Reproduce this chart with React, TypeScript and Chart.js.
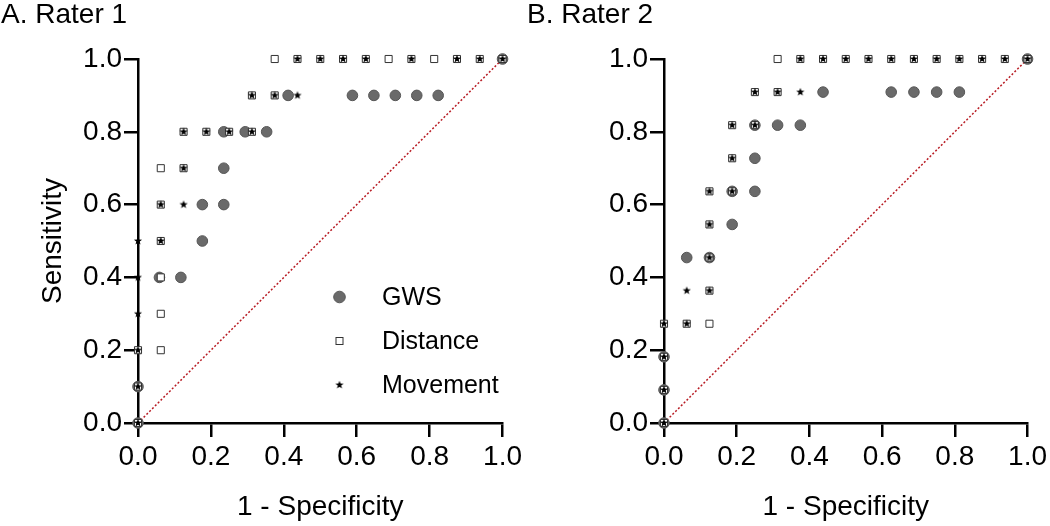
import React, { useEffect, useRef } from 'react';
import { Chart, registerables } from 'chart.js';

Chart.register(...registerables);

const FONT = '"Liberation Sans", Arial, Helvetica, sans-serif';

// Rater 1 (x = 1 - specificity, y = sensitivity)
const r1GwsX = [0, 0, 0.0588, 0.1176, 0.1765, 0.1765, 0.2353, 0.2353, 0.2353, 0.2941, 0.3529, 0.4118, 0.5882, 0.6471, 0.7059, 0.7647, 0.8235, 1.0];
const r1GwsY = [0, 0.1, 0.4, 0.4, 0.5, 0.6, 0.6, 0.7, 0.8, 0.8, 0.8, 0.9, 0.9, 0.9, 0.9, 0.9, 0.9, 1.0];
const r1DistX = [0, 0, 0, 0.0625, 0.0625, 0.0625, 0.0625, 0.0625, 0.0625, 0.125, 0.125, 0.1875, 0.25, 0.3125, 0.3125, 0.375, 0.375, 0.4375, 0.5, 0.5625, 0.625, 0.6875, 0.75, 0.8125, 0.875, 0.9375, 1.0];
const r1DistY = [0, 0.1, 0.2, 0.2, 0.3, 0.4, 0.5, 0.6, 0.7, 0.7, 0.8, 0.8, 0.8, 0.8, 0.9, 0.9, 1, 1, 1, 1, 1, 1, 1, 1, 1, 1, 1];
const r1MovX = [0, 0, 0, 0, 0, 0, 0.0625, 0.0625, 0.125, 0.125, 0.125, 0.1875, 0.25, 0.3125, 0.3125, 0.375, 0.4375, 0.4375, 0.5, 0.5625, 0.625, 0.75, 0.875, 0.9375, 1.0];
const r1MovY = [0, 0.1, 0.2, 0.3, 0.4, 0.5, 0.5, 0.6, 0.6, 0.7, 0.8, 0.8, 0.8, 0.8, 0.9, 0.9, 0.9, 1, 1, 1, 1, 1, 1, 1, 1];

// Rater 2
const r2GwsX = [0, 0, 0, 0.0625, 0.125, 0.1875, 0.1875, 0.25, 0.25, 0.25, 0.3125, 0.375, 0.4375, 0.625, 0.6875, 0.75, 0.8125, 1.0];
const r2GwsY = [0, 0.0909, 0.1818, 0.4545, 0.4545, 0.5455, 0.6364, 0.6364, 0.7273, 0.8182, 0.8182, 0.8182, 0.9091, 0.9091, 0.9091, 0.9091, 0.9091, 1.0];
const r2DistX = [0, 0, 0, 0, 0.0625, 0.125, 0.125, 0.125, 0.125, 0.125, 0.1875, 0.1875, 0.1875, 0.25, 0.25, 0.3125, 0.3125, 0.375, 0.4375, 0.5, 0.5625, 0.625, 0.6875, 0.75, 0.8125, 0.875, 0.9375, 1.0];
const r2DistY = [0, 0.0909, 0.1818, 0.2727, 0.2727, 0.2727, 0.3636, 0.4545, 0.5455, 0.6364, 0.6364, 0.7273, 0.8182, 0.8182, 0.9091, 0.9091, 1, 1, 1, 1, 1, 1, 1, 1, 1, 1, 1, 1];
const r2MovX = [0, 0, 0, 0, 0.0625, 0.0625, 0.125, 0.125, 0.125, 0.125, 0.1875, 0.1875, 0.1875, 0.25, 0.25, 0.3125, 0.375, 0.375, 0.4375, 0.5, 0.5625, 0.625, 0.6875, 0.75, 0.8125, 0.875, 0.9375, 1.0];
const r2MovY = [0, 0.0909, 0.1818, 0.2727, 0.2727, 0.3636, 0.3636, 0.4545, 0.5455, 0.6364, 0.6364, 0.7273, 0.8182, 0.8182, 0.9091, 0.9091, 0.9091, 1, 1, 1, 1, 1, 1, 1, 1, 1, 1, 1];

// Chance (reference) line
const refLineX = [0, 1];
const refLineY = [0, 1];

const seriesNames = ['GWS', 'Distance', 'Movement'];
const panelTitles = ['A. Rater 1', 'B. Rater 2'];
const xAxisTitle = '1 - Specificity';
const yAxisTitle = 'Sensitivity';

const CIRCLE_FILL = '#6a6a6a';
const CIRCLE_BORDER = '#565656';
const SQUARE_BORDER = '#333333';

function makeStar(): HTMLCanvasElement {
  const c = document.createElement('canvas');
  const s = 10;
  c.width = s;
  c.height = s;
  const ctx = c.getContext('2d')!;
  ctx.fillStyle = '#000';
  ctx.beginPath();
  for (let i = 0; i < 10; i++) {
    const r = i % 2 === 0 ? 4.3 : 1.8;
    const a = -Math.PI / 2 + (i * Math.PI) / 5;
    const px = s / 2 + r * Math.cos(a);
    const py = s / 2 + r * Math.sin(a);
    if (i === 0) ctx.moveTo(px, py);
    else ctx.lineTo(px, py);
  }
  ctx.closePath();
  ctx.fill();
  return c;
}

const toPts = (xs: number[], ys: number[]) => xs.map((x, i) => ({ x, y: ys[i] }));

type PanelProps = {
  title: string;
  width: number;
  left: number;
  showYTitle: boolean;
  showLegend: boolean;
  gwsX: number[]; gwsY: number[];
  distX: number[]; distY: number[];
  movX: number[]; movY: number[];
};

function Panel(p: PanelProps) {
  const ref = useRef<HTMLCanvasElement | null>(null);
  useEffect(() => {
    if (!ref.current) return;
    const star = makeStar();
    const overlay = {
      id: 'overlay',
      afterDraw(chart: any) {
        const ctx = chart.ctx as CanvasRenderingContext2D;
        ctx.save();
        ctx.fillStyle = '#000';
        ctx.font = `28px ${FONT}`;
        ctx.textBaseline = 'alphabetic';
        ctx.textAlign = 'left';
        ctx.fillText(p.title, 1, 23);
        if (p.showLegend) {
          const lx = 339.5;
          const ys = [297, 341, 385];
          ctx.beginPath();
          ctx.arc(lx, ys[0], 5.8, 0, Math.PI * 2);
          ctx.fillStyle = CIRCLE_FILL;
          ctx.fill();
          ctx.lineWidth = 1;
          ctx.strokeStyle = CIRCLE_BORDER;
          ctx.stroke();
          ctx.fillStyle = '#fff';
          ctx.fillRect(lx - 3.5, ys[1] - 3.5, 7, 7);
          ctx.strokeStyle = SQUARE_BORDER;
          ctx.strokeRect(lx - 3.5, ys[1] - 3.5, 7, 7);
          ctx.drawImage(star, lx - 5, ys[2] - 5);
          ctx.fillStyle = '#000';
          ctx.font = `25px ${FONT}`;
          ctx.textBaseline = 'middle';
          seriesNames.forEach((n, i) => ctx.fillText(n, 382, ys[i] + 1));
        }
        ctx.restore();
      },
    };
    const tickFont = { size: 28, family: FONT };
    const chart = new Chart(ref.current, {
      type: 'scatter',
      data: {
        datasets: [
          {
            label: seriesNames[2],
            data: toPts(p.movX, p.movY),
            pointStyle: star as any,
            pointRadius: 5,
            clip: false as any,
          },
          {
            label: seriesNames[1],
            data: toPts(p.distX, p.distY),
            pointStyle: 'rect',
            pointRadius: 5,
            backgroundColor: '#ffffff',
            borderColor: SQUARE_BORDER,
            borderWidth: 1,
            clip: false as any,
          },
          {
            label: seriesNames[0],
            data: toPts(p.gwsX, p.gwsY),
            pointStyle: 'circle',
            pointRadius: 5.3,
            backgroundColor: CIRCLE_FILL,
            borderColor: CIRCLE_BORDER,
            borderWidth: 1,
            clip: false as any,
          },
          {
            label: 'chance',
            data: toPts(refLineX, refLineY),
            showLine: true,
            pointRadius: 0,
            borderColor: '#b81c24',
            borderWidth: 1.5,
            borderDash: [2, 2],
            fill: false,
            clip: false as any,
          } as any,
        ],
      },
      options: {
        animation: false,
        responsive: false,
        events: [],
        layout: { padding: { left: 30, top: 59, right: p.width - 503, bottom: 0 } },
        plugins: {
          legend: { display: false },
          tooltip: { enabled: false },
          title: { display: false },
        },
        scales: {
          x: {
            type: 'linear',
            position: 'bottom',
            min: 0,
            max: 1,
            ticks: {
              stepSize: 0.2,
              padding: 3,
              color: '#000',
              font: tickFont,
              maxRotation: 0,
              autoSkip: false,
              callback: (v: any) => Number(v).toFixed(1),
            },
            grid: { drawOnChartArea: false, drawTicks: true, tickLength: 14, color: '#000', lineWidth: 2.5 },
            border: { display: true, color: '#000', width: 2.5 },
            title: { display: true, text: xAxisTitle, color: '#000', font: { size: 28, family: FONT }, padding: { top: 0, bottom: 2 } },
            afterFit: (s: any) => { s.height = 103; },
          },
          y: {
            type: 'linear',
            position: 'left',
            min: 0,
            max: 1,
            ticks: {
              stepSize: 0.2,
              padding: 2,
              color: '#000',
              font: tickFont,
              autoSkip: false,
              callback: (v: any) => Number(v).toFixed(1),
            },
            grid: { drawOnChartArea: false, drawTicks: true, tickLength: 14, color: '#000', lineWidth: 2.5 },
            border: { display: true, color: '#000', width: 2.5 },
            title: { display: p.showYTitle, text: yAxisTitle, color: '#000', font: { size: 28, family: FONT }, padding: { top: 6, bottom: 0 } },
            afterFit: (s: any) => { s.width = 108; },
          },
        },
      } as any,
      plugins: [overlay],
    });
    return () => chart.destroy();
  }, []);
  return (
    <canvas
      ref={ref}
      width={p.width}
      height={526}
      style={{ position: 'absolute', left: p.left, top: 0, width: p.width, height: 526, display: 'block' }}
    />
  );
}

export default function App() {
  return (
    <div style={{ position: 'absolute', left: 0, top: 0, width: 1050, height: 526, background: '#fff', overflow: 'hidden' }}>
      <Panel
        title={panelTitles[0]}
        width={525}
        left={0}
        showYTitle={true}
        showLegend={true}
        gwsX={r1GwsX} gwsY={r1GwsY}
        distX={r1DistX} distY={r1DistY}
        movX={r1MovX} movY={r1MovY}
      />
      <Panel
        title={panelTitles[1]}
        width={524}
        left={526}
        showYTitle={false}
        showLegend={false}
        gwsX={r2GwsX} gwsY={r2GwsY}
        distX={r2DistX} distY={r2DistY}
        movX={r2MovX} movY={r2MovY}
      />
    </div>
  );
}
